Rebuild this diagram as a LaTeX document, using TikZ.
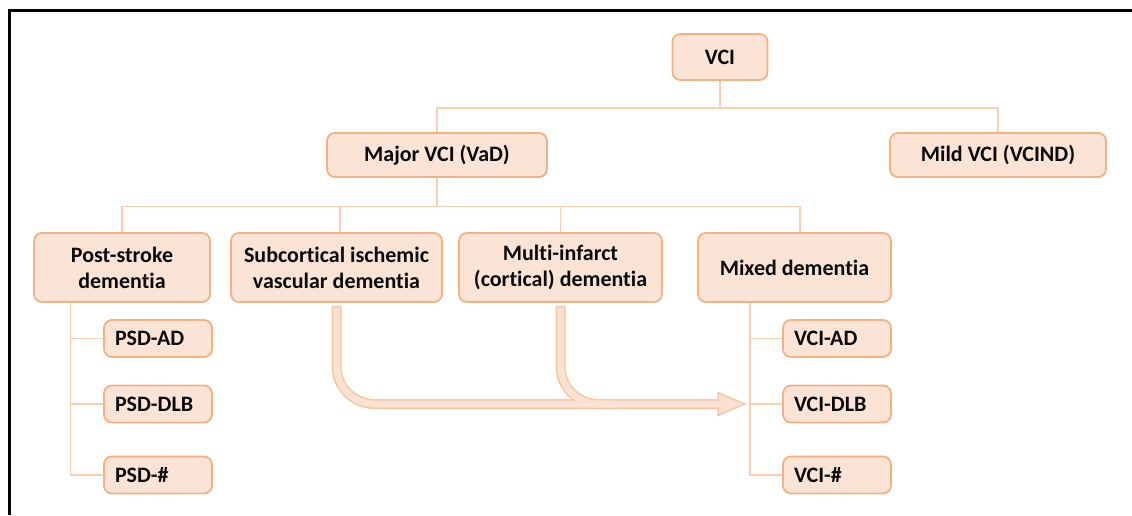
\documentclass[tikz,border=0pt]{standalone}
\usepackage{fontspec}
\setmainfont[Ligatures=NoCommon]{Carlito}
\definecolor{boxfill}{HTML}{FBE4D5}
\definecolor{boxline}{HTML}{F4B183}
\definecolor{conn}{HTML}{F8CFB3}
\definecolor{arrfill}{HTML}{FBE1CF}
\definecolor{arrline}{HTML}{F6C7A5}
\definecolor{txt}{HTML}{0A0A0A}
\begin{document}
\begin{tikzpicture}[x=1pt,y=-1pt,
  box/.style={draw=boxline,fill=boxfill,line width=1.8pt,rounded corners=8pt,
    inner sep=0pt,align=center,text=txt,
    font=\fontsize{22}{26}\selectfont\bfseries},
  leaf/.style={box,minimum height=37pt,text width=86pt,align=left,inner xsep=11pt,
    text depth=0pt},
  link/.style={draw=conn,line width=1.4pt},
  frame/.style={draw=black,line width=3pt}
]
\useasboundingbox (0,0) rectangle (1132,515);
\draw[frame] (1132,10) -- (9,10) -- (9,515);

\node[box,minimum width=95pt,minimum height=46pt] (vci) at (720,57) {VCI};
\node[box,minimum width=220pt,minimum height=44pt] (major) at (437,155) {Major VCI (VaD)};
\node[box,minimum width=216pt,minimum height=44pt] (mild) at (998,155) {Mild VCI (VCIND)};

\node[box,minimum width=176pt,minimum height=69pt] (post) at (122,267.5) {Post-stroke\\dementia};
\node[box,minimum width=211pt,minimum height=69pt] (sub) at (336.5,267.5) {Subcortical ischemic\\vascular dementia};
\node[box,minimum width=203pt,minimum height=69pt] (multi) at (560.5,267.5) {Multi-infarct\\(cortical) dementia};
\node[box,minimum width=193pt,minimum height=69pt] (mixed) at (794.5,267.5) {Mixed dementia};

\node[leaf] (psdad) at (158,338.5) {PSD-AD};
\node[leaf] (psddlb) at (158,404) {PSD-DLB};
\node[leaf] (psdh) at (158,475) {PSD-\#};
\node[leaf] (vciad) at (837,338.5) {VCI-AD};
\node[leaf] (vcidlb) at (837,404) {VCI-DLB};
\node[leaf] (vcih) at (837,475) {VCI-\#};

% tree connectors
\coordinate (j1) at ([yshift=-27pt]vci.south);
\draw[link] (vci.south) -- (j1);
\draw[link] (major.north) |- (j1) -| (mild.north);
\coordinate (j2) at ([yshift=-28.5pt]major.south);
\draw[link] (major.south) -- (j2);
\draw[link] (post.north) |- (j2) -| ([xshift=5.5pt]mixed.north);
\draw[link] ([xshift=3.5pt]sub.north) |- (j2);
\draw[link] (multi.north) |- (j2);

\coordinate (pt) at ([xshift=-51.5pt]post.south);
\draw[link] (pt) |- (psdh.west);
\draw[link] (psdad.west) -- (psdad.west -| pt);
\draw[link] (psddlb.west) -- (psddlb.west -| pt);
\coordinate (mt) at ([xshift=-44.5pt]mixed.south);
\draw[link] (mt) |- (vcih.west);
\draw[link] (vciad.west) -- (vciad.west -| mt);
\draw[link] (vcidlb.west) -- (vcidlb.west -| mt);

% thick arrows
\coordinate (a1) at ([yshift=-4.5pt]sub.south);
\coordinate (a2) at ([yshift=-4.5pt]multi.south);
\coordinate (head) at ([xshift=-5pt]vcidlb.west -| mt);
\coordinate (base) at ([xshift=-27pt]head);
\coordinate (join) at ([xshift=-100pt]base);
\draw[arrline,line width=10pt,rounded corners=38pt] ([yshift=1.5pt]a1) |- (base);
\draw[arrline,line width=10pt,rounded corners=38pt] ([yshift=1.5pt]a2) |- (join);
\draw[draw=arrline,fill=arrfill,line width=1.5pt,line join=miter]
  (head) -- ([yshift=-11.5pt]base) -- ([yshift=11.5pt]base) -- cycle;
\draw[arrfill,line width=7pt,rounded corners=38pt] (a1) |- ([xshift=1.6pt]base);
\draw[arrfill,line width=7pt,rounded corners=38pt] (a2) |- (join);
\end{tikzpicture}
\end{document}
